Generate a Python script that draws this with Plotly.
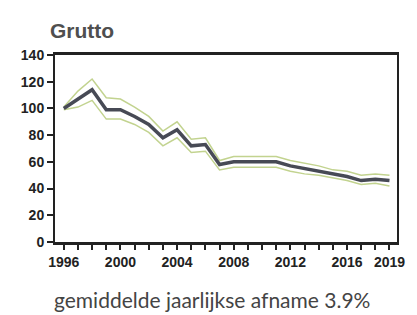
import plotly.graph_objects as go

years = list(range(1996, 2020))
index_vals = [100, 107, 114, 99, 99, 94, 88, 78, 84, 72, 73, 58, 60, 60, 60, 60, 57, 55, 53, 51, 49, 46, 47, 46]
upper_vals = [101, 113, 122, 108, 107, 101, 94, 83, 90, 77, 78, 61, 64, 64, 64, 64, 61, 59, 57, 54, 53, 50, 51, 50]
lower_vals = [99, 101, 106, 92, 92, 88, 82, 72, 78, 67, 68, 54, 56, 56, 56, 56, 53, 51, 50, 48, 46, 43, 44, 42]
labelled_years = [1996, 2000, 2004, 2008, 2012, 2016, 2019]
y_ticks = [0, 20, 40, 60, 80, 100, 120, 140]

title_text = "Grutto"
footer_text = "gemiddelde jaarlijkse afname 3.9%"

band_color = "#c2d38f"
line_color = "#474a55"

fig = go.Figure()
fig.add_trace(go.Scatter(x=years, y=upper_vals, mode="lines",
                         line=dict(color=band_color, width=1.5), hoverinfo="skip"))
fig.add_trace(go.Scatter(x=years, y=lower_vals, mode="lines",
                         line=dict(color=band_color, width=1.5), hoverinfo="skip"))
fig.add_trace(go.Scatter(x=years, y=index_vals, mode="lines",
                         line=dict(color=line_color, width=3.5)))

ticktext = [str(y) if y in labelled_years else "" for y in years]

fig.update_layout(
    width=417, height=315,
    margin=dict(l=55, r=13, t=55, b=73),
    paper_bgcolor="white", plot_bgcolor="white",
    showlegend=False,
    font=dict(family="Liberation Sans", color="#222222"),
    xaxis=dict(range=[1995.38, 2019.53], tickvals=years, ticktext=ticktext,
               ticks="outside", ticklen=5, tickwidth=1.5, tickcolor="#222",
               showgrid=False, zeroline=False,
               showline=True, linecolor="#222", linewidth=2.5, mirror=True,
               tickfont=dict(size=14, weight="bold", color="#222")),
    yaxis=dict(range=[0, 140], tickvals=y_ticks,
               ticks="outside", ticklen=6, tickwidth=1.5, tickcolor="#222",
               showgrid=False, zeroline=False,
               showline=True, linecolor="#222", linewidth=2, mirror=True,
               tickfont=dict(size=14, weight="bold", color="#222")),
    annotations=[
        dict(text=title_text, xref="paper", yref="paper", x=-0.02, y=1.0,
             yshift=11, xanchor="left", yanchor="bottom", showarrow=False,
             font=dict(size=21, weight="bold", color="#4f4f4f", family="Liberation Sans")),
        dict(text=footer_text, xref="paper", yref="paper", x=0.46, y=0,
             yshift=-43, xanchor="center", yanchor="top", showarrow=False,
             font=dict(size=21, color="#444444", family="Lato")),
    ],
)

fig.write_html("out.html", config={"displayModeBar": False},
               post_script="document.body.style.margin='0';")
